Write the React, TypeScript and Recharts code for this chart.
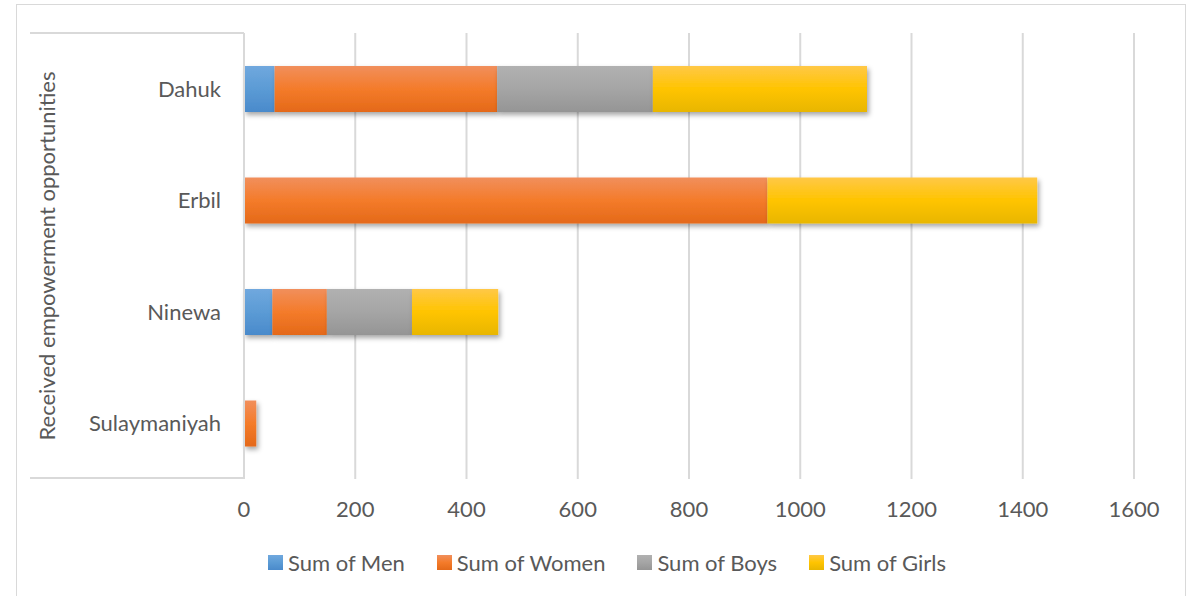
import React from "react";
import { BarChart, Bar, XAxis, YAxis, CartesianGrid, Legend, Rectangle } from "recharts";

const regions = ["Dahuk", "Erbil", "Ninewa", "Sulaymaniyah"];
const men = [55, 0, 51, 0];
const women = [400, 941, 98, 22];
const boys = [280, 0, 153, 0];
const girls = [385, 485, 155, 0];
const xTicks = [0, 200, 400, 600, 800, 1000, 1200, 1400, 1600];

const seriesKeys = ["men", "women", "boys", "girls"];
const seriesNames = ["Sum of Men", "Sum of Women", "Sum of Boys", "Sum of Girls"];
const gradStops = [
  ["#70a8de", "#5b9bd5", "#4a8acb"],
  ["#f18f5c", "#f47b2a", "#e46919"],
  ["#b1b1b1", "#a5a5a5", "#959595"],
  ["#ffc847", "#ffc400", "#e8b600"],
];

const data = regions.map((r, i) => ({
  region: r,
  men: men[i],
  women: women[i],
  boys: boys[i],
  girls: girls[i],
}));

const FONT = "Lato, 'Open Sans', sans-serif";
const TEXT = "#595959";
const FS = 22;

const ShadowBar = (props: any) => {
  const { x, y, width, height, fill } = props;
  if (!width || width <= 0) return null;
  return <Rectangle x={x} y={y} width={width} height={height} fill={fill} filter="url(#barShadow)" />;
};

const LegendContent = () => (
  <div style={{ display: "flex", justifyContent: "center", alignItems: "center", fontFamily: FONT, fontSize: FS, color: TEXT }}>
    {seriesNames.map((n, i) => (
      <div key={n} style={{ display: "flex", alignItems: "center", marginRight: i < 3 ? 32 : 0 }}>
        <div
          style={{
            width: 15,
            height: 15,
            marginRight: 5,
            background: `linear-gradient(${gradStops[i][0]}, ${gradStops[i][1]}, ${gradStops[i][2]})`,
          }}
        />
        <span>{n}</span>
      </div>
    ))}
  </div>
);

export default function App() {
  return (
    <div style={{ position: "absolute", left: 0, top: 0, width: 1189, height: 596, background: "#fff", overflow: "hidden" }}>
      <div
        style={{
          position: "absolute",
          left: 16,
          top: 4,
          width: 1170,
          height: 620,
          border: "1.5px solid #d9d9d9",
          boxSizing: "border-box",
        }}
      />
      <div
        style={{
          position: "absolute",
          left: 30,
          top: 32,
          width: 214,
          height: 447,
          borderTop: "2px solid #d9d9d9",
          borderBottom: "2px solid #d9d9d9",
          boxSizing: "border-box",
        }}
      />
      <div style={{ position: "absolute", left: 0, top: 0 }}>
        <BarChart
          width={1189}
          height={596}
          data={data}
          layout="vertical"
          margin={{ top: 33, right: 55, bottom: 77, left: 30 }}
          barSize={46}
        >
          <defs>
            {gradStops.map((g, i) => (
              <linearGradient key={i} id={`grad${i}`} x1="0" y1="0" x2="0" y2="1">
                <stop offset="0%" stopColor={g[0]} />
                <stop offset="50%" stopColor={g[1]} />
                <stop offset="100%" stopColor={g[2]} />
              </linearGradient>
            ))}
            <filter id="barShadow" filterUnits="userSpaceOnUse" x="0" y="0" width="1189" height="596">
              <feDropShadow dx="2" dy="3" stdDeviation="2.5" floodColor="#000" floodOpacity="0.35" />
            </filter>
          </defs>
          <CartesianGrid horizontal={false} stroke="#d9d9d9" strokeWidth={2} />
          <XAxis
            type="number"
            domain={[0, 1600]}
            ticks={xTicks}
            axisLine={false}
            tickLine={false}
            tickSize={0}
            tickMargin={22}
            height={40}
            tick={{ fill: TEXT, fontSize: FS, fontFamily: FONT }}
          />
          <YAxis
            type="category"
            dataKey="region"
            width={214}
            axisLine={{ stroke: "#d9d9d9", strokeWidth: 2 }}
            tickLine={false}
            tickSize={0}
            tickMargin={23}
            tick={{ fill: TEXT, fontSize: FS, fontFamily: FONT }}
            label={{
              value: "Received empowerment opportunities",
              angle: -90,
              position: "insideLeft",
              offset: 17,
              style: { textAnchor: "middle", fill: TEXT, fontSize: FS, fontFamily: FONT },
            }}
          />
          <Legend
            layout="horizontal"
            verticalAlign="middle"
            align="center"
            wrapperStyle={{ top: 549, left: 0, width: 1214 }}
            content={<LegendContent />}
          />
          {seriesKeys.map((k, i) => (
            <Bar
              key={k}
              dataKey={k}
              name={seriesNames[i]}
              stackId="a"
              fill={`url(#grad${i})`}
              shape={<ShadowBar />}
              isAnimationActive={false}
            />
          ))}
        </BarChart>
      </div>
    </div>
  );
}
